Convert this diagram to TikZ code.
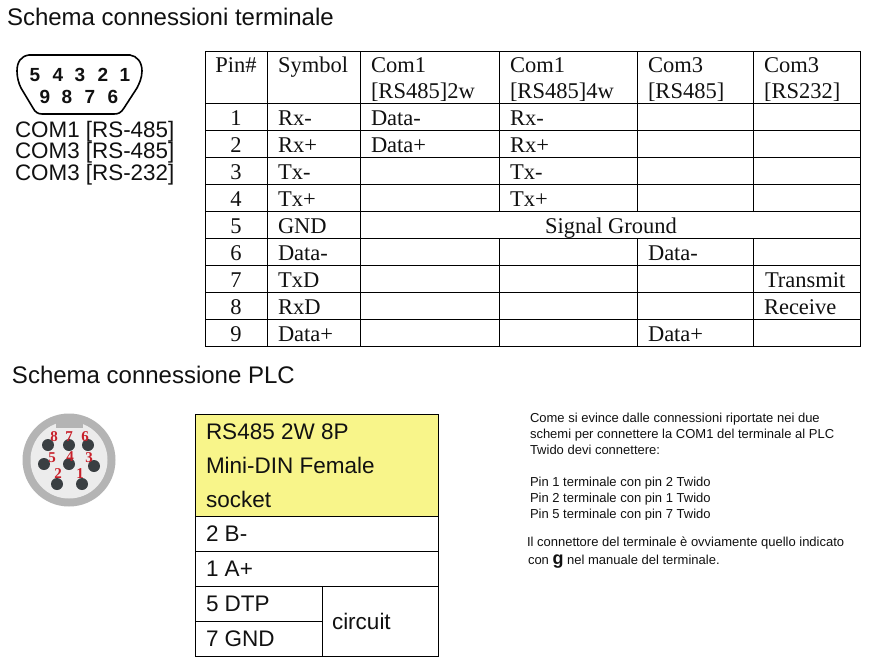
\documentclass[tikz,border=0pt]{standalone}
\usepackage{fontspec}
\setmainfont{Liberation Serif}
\setsansfont{Liberation Sans}
\definecolor{plcyellow}{HTML}{F8F58A}
\definecolor{ink}{HTML}{111111}
\definecolor{dinring}{HTML}{B4B4B4}
\definecolor{dinface}{HTML}{ECECEC}
\definecolor{dinpin}{HTML}{3A3F42}
\definecolor{dinred}{HTML}{C8202A}
\tikzset{
  lbl/.style={anchor=base west,inner sep=0pt,outer sep=0pt,text=ink},
  cell/.style={lbl,font=\fontsize{22.5}{24}\selectfont\rmfamily},
  pinno/.style={cell,anchor=base},
  title/.style={lbl,font=\fontsize{24}{26}\selectfont\sffamily},
  com/.style={lbl,font=\fontsize{22.4}{26}\selectfont\sffamily},
  plc/.style={lbl,font=\fontsize{22.5}{26}\selectfont\sffamily},
  note/.style={lbl,font=\fontsize{13}{14}\selectfont\sffamily},
  grid/.style={draw=black,line width=0.9pt},
  dsub/.style={anchor=base,inner sep=0pt,font=\fontsize{19}{20}\selectfont\sffamily\bfseries,text=ink},
  dinlbl/.style={anchor=center,inner sep=0pt,font=\fontsize{15}{16}\selectfont\rmfamily\bfseries,text=dinred},
  dinhole/.style={circle,fill=dinpin,minimum size=12pt,inner sep=0pt},
}
\begin{document}
\begin{tikzpicture}[x=1pt,y=-1pt]
\useasboundingbox (0,0) rectangle (873,670);
\fill[white] (0,0) rectangle (873,670);
% titles
\node[title] (t1) at (7,25) {Schema connessioni terminale};
\node[title] (t2) at (12,383) {Schema connessione PLC};
% D-sub connector
\draw[line width=1.6pt,black]
  (29,55) -- (130,55) .. controls (137,56) and (142,62) .. (142,71)
  .. controls (142,78) and (139,84) .. (137,88) -- (124,108)
  .. controls (121,113) and (118,114) .. (114,114) -- (42,114)
  .. controls (38,114) and (35,112) .. (33,108) -- (21,88)
  .. controls (19,84) and (17,78) .. (17,71)
  .. controls (17,62) and (21,56) .. (29,55) -- cycle;
\node[dsub] (d5) at (35,81) {5};
\node[dsub] (d4) at (58,81) {4};
\node[dsub] (d3) at (80,81) {3};
\node[dsub] (d2) at (103,81) {2};
\node[dsub] (d1) at (125,81) {1};
\node[dsub] (d9) at (45,103) {9};
\node[dsub] (d8) at (67,103) {8};
\node[dsub] (d7) at (90,103) {7};
\node[dsub] (d6) at (113,103) {6};
\node[com] (c1) at (15,137) {COM1 [RS-485]};
\node[com] (c2) at (15,158) {COM3 [RS-485]};
\node[com] (c3) at (15,180) {COM3 [RS-232]};
% terminal table
\foreach \yy in {51,103,130,157,184,211,238,265,292,319,346}
  \draw[grid] (205,\yy) -- (860.5,\yy);
\foreach \xx in {205,267,860}
  \draw[grid] (\xx,51) -- (\xx,346);
\foreach \xx in {360,499,637,753} {
  \draw[grid] (\xx,51) -- (\xx,211);
  \draw[grid] (\xx,238) -- (\xx,346);
}
\draw[grid] (360,211) -- (360,238);
\node[pinno] (hp) at (236,72) {Pin\#};
\node[cell] (hs) at (278,72) {Symbol};
\node[cell] (h1) at (371,72) {Com1};
\node[cell] (h1b) at (371,98) {[RS485]2w};
\node[cell] (h2) at (510,72) {Com1};
\node[cell] (h2b) at (510,98) {[RS485]4w};
\node[cell] (h3) at (648,72) {Com3};
\node[cell] (h3b) at (648,98) {[RS485]};
\node[cell] (h4) at (764,72) {Com3};
\node[cell] (h4b) at (764,98) {[RS232]};
\node[pinno] (p1) at (236,125) {1};
\node[pinno] (p2) at (236,152) {2};
\node[pinno] (p3) at (236,179) {3};
\node[pinno] (p4) at (236,206) {4};
\node[pinno] (p5) at (236,233) {5};
\node[pinno] (p6) at (236,260) {6};
\node[pinno] (p7) at (236,287) {7};
\node[pinno] (p8) at (236,314) {8};
\node[pinno] (p9) at (236,341) {9};
\node[cell] (s1) at (278,125) {Rx-};
\node[cell] (s2) at (278,152) {Rx+};
\node[cell] (s3) at (278,179) {Tx-};
\node[cell] (s4) at (278,206) {Tx+};
\node[cell] (s5) at (278,233) {GND};
\node[cell] (s6) at (278,260) {Data-};
\node[cell] (s7) at (278,287) {TxD};
\node[cell] (s8) at (278,314) {RxD};
\node[cell] (s9) at (278,341) {Data+};
\node[cell] (a1) at (371,125) {Data-};
\node[cell] (a2) at (371,152) {Data+};
\node[cell] (b1) at (510,125) {Rx-};
\node[cell] (b2) at (510,152) {Rx+};
\node[cell] (b3) at (510,179) {Tx-};
\node[cell] (b4) at (510,206) {Tx+};
\node[pinno] (sg) at (611,233) {Signal Ground};
\node[cell] (e6) at (648,260) {Data-};
\node[cell] (e9) at (648,341) {Data+};
\node[cell] (f7) at (765,287) {Transmit};
\node[cell] (f8) at (764,314) {Receive};
% Mini-DIN
\fill[dinring] (69,460) circle (46.5pt);
\fill[dinface] (69,460) circle (38.5pt);
\fill[dinring] (56,419) -- (83,419) -- (83,428) -- (56,428) -- cycle;
\node[dinhole] (m8) at (48,445) {};
\node[dinhole] (m7) at (69,445) {};
\node[dinhole] (m6) at (88,445) {};
\node[dinhole] (m5) at (44,464) {};
\node[dinhole] (m4) at (69,464) {};
\node[dinhole] (m3) at (94,466) {};
\node[dinhole] (m2) at (57,484) {};
\node[dinhole] (m1) at (82,484) {};
\node[dinlbl] (l8) at (54,437) {8};
\node[dinlbl] (l7) at (69,437) {7};
\node[dinlbl] (l6) at (85,437) {6};
\node[dinlbl] (l5) at (52,458) {5};
\node[dinlbl] (l4) at (70,457) {4};
\node[dinlbl] (l3) at (89,458) {3};
\node[dinlbl] (l2) at (58,474) {2};
\node[dinlbl] (l1) at (80,474) {1};
% PLC table
\fill[plcyellow] (195,414) rectangle (438,516);
\draw[grid] (195,414) rectangle (438,656);
\foreach \yy in {516,551,586}
  \draw[grid] (195,\yy) -- (438,\yy);
\draw[grid] (195,621) -- (322,621);
\draw[grid] (322,586) -- (322,656);
\node[plc] (r1) at (206,439) {RS485 2W 8P};
\node[plc] (r2) at (206,473) {Mini-DIN Female};
\node[plc] (r3) at (206,507) {socket};
\node[plc] (r4) at (206,541) {2 B-};
\node[plc] (r5) at (206,576) {1 A+};
\node[plc] (r6) at (206,611) {5 DTP};
\node[plc] (r7) at (206,646) {7 GND};
\node[plc] (r8) at (332,629) {circuit};
% notes
\node[note] (n1) at (530,422) {Come si evince dalle connessioni riportate nei due};
\node[note] (n2) at (530,438) {schemi per connettere la COM1 del terminale al PLC};
\node[note] (n3) at (530,454) {Twido devi connettere:};
\node[note] (n4) at (530,486) {Pin 1 terminale con pin 2 Twido};
\node[note] (n5) at (530,502) {Pin 2 terminale con pin 1 Twido};
\node[note] (n6) at (530,518) {Pin 5 terminale con pin 7 Twido};
\fill[white] (525,519.5) rectangle (720,526);
\node[note] (n7) at (527,546) {Il connettore del terminale è ovviamente quello indicato};
\node[note] (n8) at (528,564) {con {\fontsize{18}{18}\selectfont\bfseries g} nel manuale del terminale.};
\end{tikzpicture}
\end{document}
